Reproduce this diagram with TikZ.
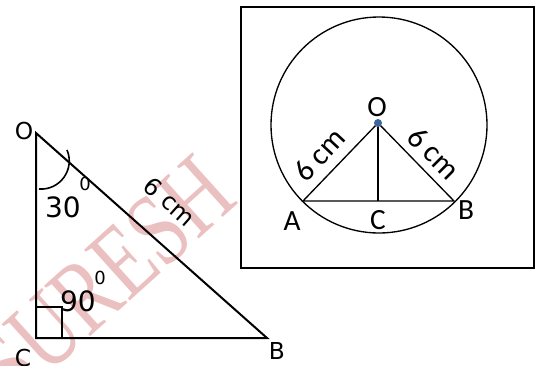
\documentclass[tikz,border=0pt]{standalone}
\usepackage{fontspec}
\usepackage{tikz}
\setmainfont{DejaVu Sans}
\newfontfamily\calibrifont{Carlito}
\newfontfamily\markfont{Liberation Serif}
\definecolor{markpink}{RGB}{234,192,192}
\definecolor{dotblue}{RGB}{62,100,156}
\newcommand{\fsize}[1]{\fontsize{#1}{#1}\selectfont}
\tikzset{
    heavy/.style={line width=1.5pt},
    light/.style={line width=1pt},
    leftlabel/.style={inner sep=0pt, font=\fsize{17.5}},
    rightlabel/.style={inner sep=0pt, font=\calibrifont\fsize{22}},
}

\begin{document}
\begin{tikzpicture}[x=0.75pt, y=-0.75pt]
    \useasboundingbox (0,0) rectangle (539,365);

    % Draw watermark
    \node[markpink, rotate=42, inner sep=0pt, font=\markfont\fsize{68}] (mark) at (104,279) {\scalebox{0.88}[1.15]{SURESH}};

    % Draw right triangle
    \coordinate (O) at (36,133);
    \coordinate (C) at (36,338);
    \coordinate (B) at (267,338);
    \coordinate (sq) at (62,307);
    \coordinate (arcA) at (67,150);
    \coordinate (arcB) at (39,189);

    \draw[heavy] (O) -- (C) -- (B) -- cycle;
    \draw[heavy] (C) rectangle (sq);
    \draw[line width=1.2pt] (arcA) .. controls (75.2,169.4) and (59.9,190.5) .. (arcB);

    \node[leftlabel] (lO) at (24,131) {O};
    \node[leftlabel] (lC) at (23,358) {C};
    \node[leftlabel] (lB) at (277,351) {B};
    \node[inner sep=0pt, font=\fsize{21}] (a30) at (63,207) {30};
    \node[inner sep=0pt, font=\fsize{13.5}] (d30) at (85,184) {0};
    \node[inner sep=0pt, font=\fsize{21}] (a90) at (78,301) {90};
    \node[inner sep=0pt, font=\fsize{13.5}] (d90) at (100,278) {0};
    \node[inner sep=0pt, rotate=-41.6, font=\fsize{18}] (len) at (170,202) {6 cm};

    % Draw circle in box
    \coordinate (frameA) at (241,7);
    \coordinate (frameB) at (534,268);
    \coordinate (ctr) at (379,125);
    \coordinate (P) at (378,123);
    \coordinate (Q) at (378,201);
    \coordinate (A) at (303,201);
    \coordinate (R) at (454,201);

    \draw[light] (frameA) rectangle (frameB);
    \draw[light] (ctr) circle[radius=81pt];
    \draw[light] (A) -- (P) -- (R) -- cycle;
    \draw[light] (P) -- (Q);
    \fill[dotblue] (P) circle[radius=3pt];

    \node[rightlabel] (rO) at (377,107) {O};
    \node[rightlabel] (rA) at (292,221) {A};
    \node[rightlabel] (rC) at (378,220) {C};
    \node[rightlabel] (rB) at (466,210) {B};
    \node[inner sep=0pt, rotate=47, font=\calibrifont\fsize{23}] (lenA) at (319,155) {6 cm};
    \node[inner sep=0pt, rotate=-45, font=\calibrifont\fsize{23}] (lenB) at (434,153) {6 cm};
\end{tikzpicture}
\end{document}
